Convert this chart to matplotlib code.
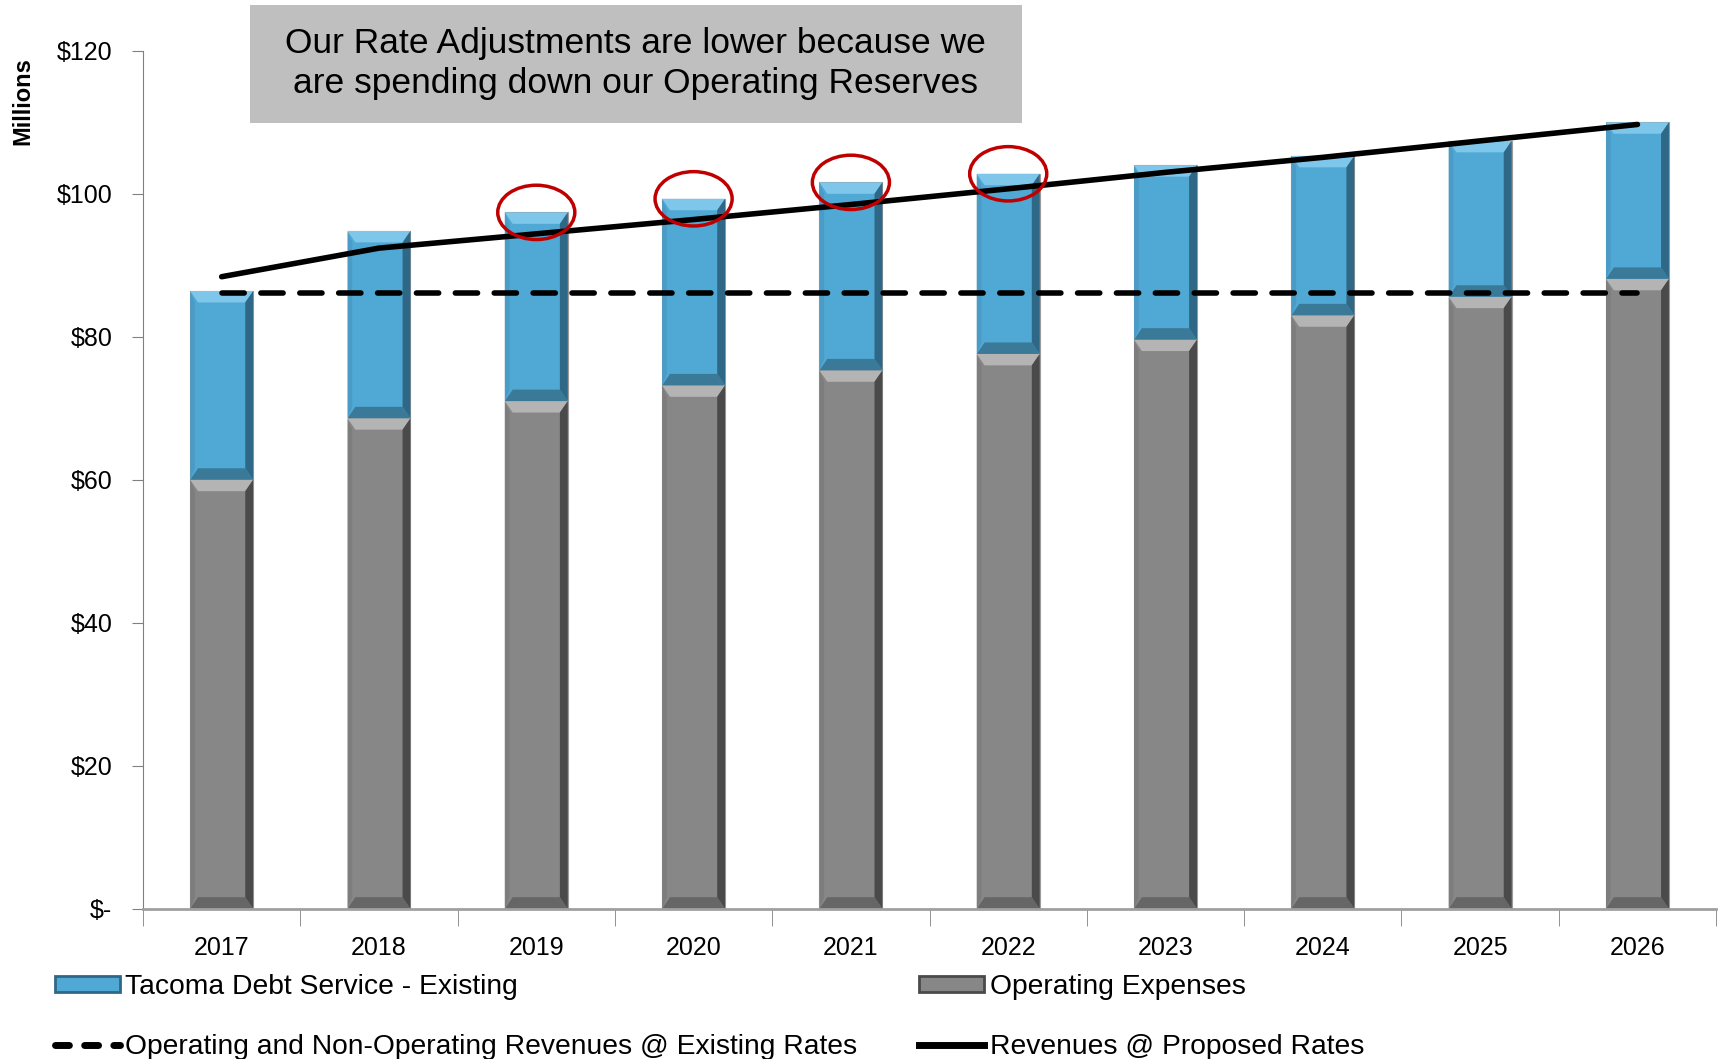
import matplotlib.pyplot as plt
import numpy as np
from matplotlib.patches import Ellipse, Rectangle, Polygon
from matplotlib.lines import Line2D
from matplotlib.ticker import FuncFormatter, FixedLocator

# data (millions of dollars)
years = ["2017", "2018", "2019", "2020", "2021", "2022", "2023", "2024", "2025", "2026"]
operating_expenses = [60.0, 68.6, 71.0, 73.2, 75.3, 77.6, 79.6, 83.0, 85.6, 88.1]
debt_service = [26.4, 26.2, 26.4, 26.1, 26.3, 25.2, 24.4, 22.3, 21.8, 21.9]
existing_rates = [86.1, 86.1, 86.1, 86.1, 86.1, 86.1, 86.1, 86.1, 86.1, 86.1]
proposed_rates = [88.4, 92.4, 94.4, 96.4, 98.5, 100.7, 103.0, 105.1, 107.4, 109.7]
circled_years = ["2019", "2020", "2021", "2022"]

plt.rcParams['font.family'] = ['Liberation Sans', 'DejaVu Sans']

fig = plt.figure(figsize=(17.23, 10.59), dpi=100)
ax = fig.add_axes([0.083, 0.142, 0.913, 0.81])

x = np.arange(len(years))
width = 0.4
blue = {'main': '#50a8d4', 'top': '#7fc7ea', 'right': '#2f6886', 'left': '#4a9cc6', 'bottom': '#3a7998'}
gray = {'main': '#878787', 'top': '#b4b4b4', 'right': '#4a4a4a', 'left': '#7d7d7d', 'bottom': '#666666'}


def bevel(ax, xc, bottom, height, c, dx=0.05, dy=1.6):
    # fake the bevelled 3D look of the original bars
    l, r = xc - width / 2, xc + width / 2
    b, t = bottom, bottom + height
    parts = [
        ('top', [(l, t), (r, t), (r - dx, t - dy), (l + dx, t - dy)]),
        ('bottom', [(l, b), (r, b), (r - dx, b + dy), (l + dx, b + dy)]),
        ('left', [(l, b), (l, t), (l + dx * 0.6, t - dy), (l + dx * 0.6, b + dy)]),
        ('right', [(r, b), (r, t), (r - dx, t - dy), (r - dx, b + dy)]),
    ]
    for key, pts in parts:
        ax.add_patch(Polygon(pts, closed=True, facecolor=c[key], edgecolor='none', zorder=2.1))


ax.bar(x, operating_expenses, width=width, color=gray['main'], edgecolor='#9a9a9a', linewidth=0.8, zorder=2)
ax.bar(x, debt_service, width=width, bottom=operating_expenses, color=blue['main'],
       edgecolor='#9a9a9a', linewidth=0.8, zorder=2)
for i in range(len(years)):
    bevel(ax, x[i], 0, operating_expenses[i], gray)
    bevel(ax, x[i], operating_expenses[i], debt_service[i], blue)

ax.plot(x, existing_rates, color='black', linewidth=4, dashes=(4, 3),
        dash_capstyle='round', zorder=3)
ax.plot(x, proposed_rates, color='black', linewidth=4, solid_capstyle='round', zorder=3)

totals = np.array(operating_expenses) + np.array(debt_service)
for yr in circled_years:
    i = years.index(yr)
    ax.add_patch(Ellipse((i, totals[i]), 0.49, 7.6, fill=False, edgecolor='#c00000',
                         linewidth=2.5, zorder=4))

ax.set_xlim(-0.5, len(years) - 0.5)
ax.set_ylim(0, 120)
ax.set_yticks([0, 20, 40, 60, 80, 100, 120])
ax.yaxis.set_major_formatter(FuncFormatter(lambda v, p: '$-' if v == 0 else f'${v:.0f}'))
ax.set_xticks(x)
ax.set_xticklabels(years)
ax.xaxis.set_minor_locator(FixedLocator(np.arange(-0.5, len(years), 1.0)))
ax.tick_params(axis='x', which='major', length=0, pad=20, labelsize=18)
ax.tick_params(axis='x', which='minor', length=12, color='#808080', direction='out')
ax.tick_params(axis='y', length=8, color='#808080', labelsize=18, pad=14)
for s in ['top', 'right']:
    ax.spines[s].set_visible(False)
ax.spines['left'].set_color('#808080')
ax.spines['bottom'].set_color('#a0a0a0')
ax.spines['bottom'].set_linewidth(2)

fig.text(0.013, 0.905, 'Millions', rotation=90, fontsize=17, fontweight='bold',
         ha='center', va='center')

# title box
fig.patches.append(Rectangle((0.145, 0.884), 0.448, 0.111, transform=fig.transFigure,
                             facecolor='#bfbfbf', edgecolor='none'))
fig.text(0.369, 0.94, 'Our Rate Adjustments are lower because we\nare spending down our Operating Reserves',
         ha='center', va='center', fontsize=25.5, linespacing=1.3)

handles = [
    Rectangle((0, 0), 1, 1, facecolor=blue['main'], edgecolor=blue['right'], linewidth=2),
    Line2D([0], [0], color='black', linewidth=5, dashes=(2, 2.2), dash_capstyle='round'),
    Rectangle((0, 0), 1, 1, facecolor=gray['main'], edgecolor=gray['right'], linewidth=2),
    Line2D([0], [0], color='black', linewidth=5),
]
labels = ['Tacoma Debt Service - Existing',
          'Operating and Non-Operating Revenues @ Existing Rates',
          'Operating Expenses',
          'Revenues @ Proposed Rates']
fig.legend(handles, labels, ncol=2, loc='lower left', bbox_to_anchor=(0.017, -0.025),
           frameon=False, fontsize=20.3, handlelength=2.3, handleheight=0.5,
           handletextpad=0.2, columnspacing=2.2, labelspacing=1.2)

fig.savefig('out.png', dpi=100)
